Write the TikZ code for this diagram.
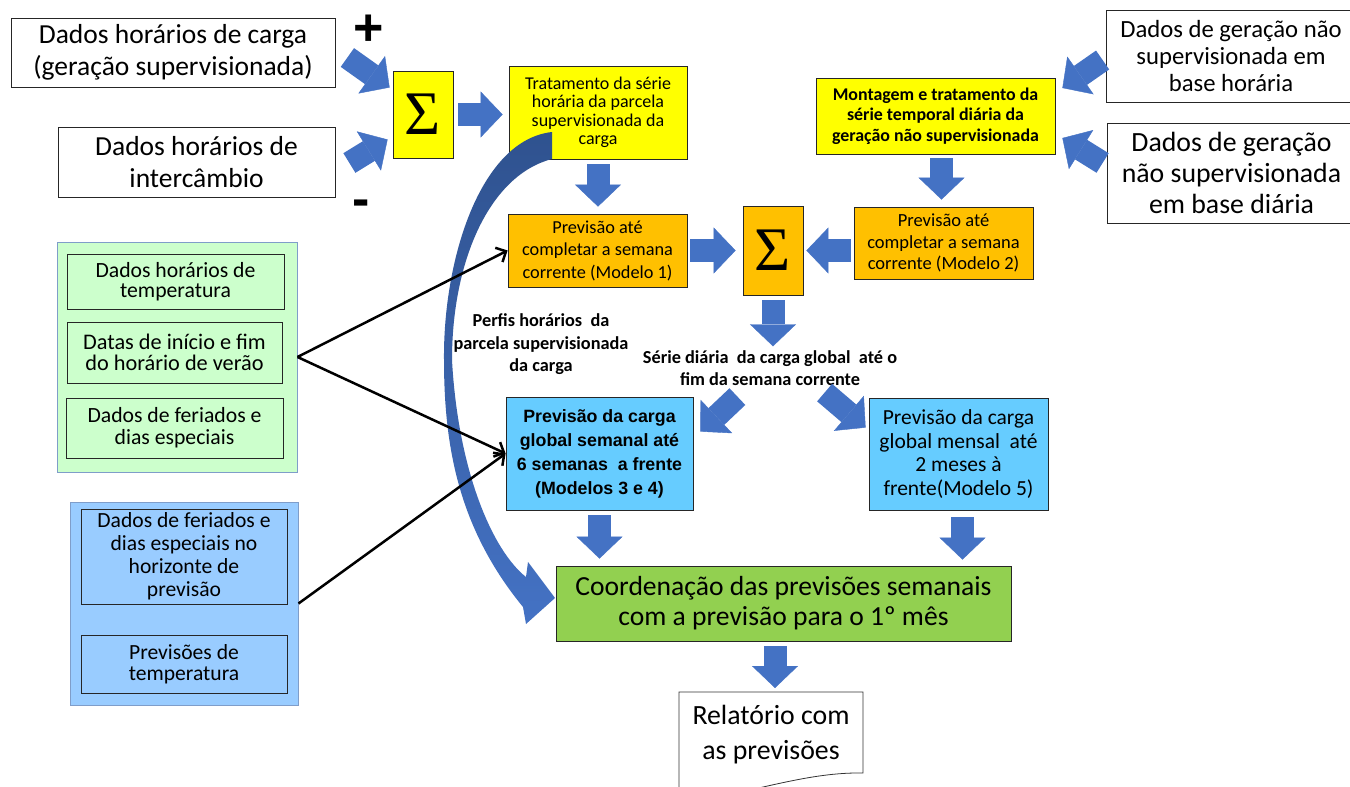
\documentclass[tikz,border=0pt]{standalone}
\usepackage{fontspec}
\setmainfont{Carlito}
\newfontfamily\arialf{Liberation Sans}
\newfontfamily\serf{Liberation Serif}
\usetikzlibrary{arrows.meta,calc}
\definecolor{ablue}{HTML}{4472C4}
\definecolor{dblue}{HTML}{2F528F}
\definecolor{yel}{HTML}{FFFF00}
\definecolor{ora}{HTML}{FFC000}
\definecolor{sky}{HTML}{66CCFF}
\definecolor{grn}{HTML}{92D050}
\definecolor{lgrn}{HTML}{CCFFCC}
\definecolor{lblue}{HTML}{99CCFF}
\definecolor{gborder}{HTML}{7F9DC9}
\newcommand{\fs}[2]{\fontsize{#1}{#2}\selectfont}
\begin{document}
\begin{tikzpicture}[x=1pt,y=-1pt,
 box/.style={draw=black!85, line width=0.8pt, inner sep=0pt, align=center},
 grp/.style={draw=gborder, line width=1pt, inner sep=0pt},
 barrow/.style={ablue, line width=23pt, -{Triangle[length=22pt,width=46pt,line width=0.4pt]}},
 larrow/.style={black, line width=2.5pt, -{Straight Barb[length=8pt,width=16pt]}},
 lbl/.style={font=\bfseries\fs{18.3}{22.5}, align=center, inner sep=0pt}
]
\useasboundingbox (0,0) rectangle (1350,787);
\fill[white] (0,0) rectangle (1350,787);

% top left inputs
\node[box, fill=white, minimum width=324pt, minimum height=69pt, font=\fs{27.5}{32}] (A) at (173,52.5) {Dados horários de carga\\(geração supervisionada)};
\node[box, fill=white, minimum width=277pt, minimum height=70pt, font=\fs{27.5}{32}] (B) at (196.5,162) {Dados horários de\\intercâmbio};
\node[font=\arialf\bfseries\fs{52}{52}, inner sep=0pt] (plus) at (369,30) {+};
\node[font=\arialf\bfseries\fs{52}{52}, inner sep=0pt] (minus) at (361,208) {-};
\node[box, fill=yel, minimum width=60pt, minimum height=87pt, font=\serf\fs{62}{62}] (sig1) at (423,114.5) {Σ};

% supervised branch
\node[box, fill=yel, minimum width=178pt, minimum height=93pt, font=\fs{18}{18.5}] (trat) at (598,112.5) {Tratamento da série\\horária da parcela\\supervisionada da\\carga};
\node[box, fill=ora, minimum width=179pt, minimum height=73pt, font=\fs{18.3}{22.5}] (m1) at (597.5,250.5) {Previsão até\\completar a semana\\corrente (Modelo 1)};
\node[box, fill=ora, minimum width=60pt, minimum height=89pt, font=\serf\fs{62}{62}] (sig2) at (773,250.5) {Σ};

% unsupervised branch
\node[box, fill=yel, minimum width=239pt, minimum height=76pt, font=\bfseries\fs{17.9}{20.5}] (mont) at (935.5,116) {Montagem e tratamento da\\série temporal diária da\\geração não supervisionada};
\node[box, fill=ora, minimum width=179pt, minimum height=72pt, font=\fs{18.5}{21.5}] (m2) at (943.5,243) {Previsão até\\completar a semana\\corrente (Modelo 2)};
\node[box, fill=white, minimum width=250pt, minimum height=92pt, font=\fs{24.7}{27}] (C) at (1231,56) {Dados de geração não\\supervisionada em\\base horária};
\node[box, fill=white, minimum width=249pt, minimum height=100pt, font=\fs{27.8}{31}] (D) at (1231.5,173) {Dados de geração\\não supervisionada\\em base diária};

% labels
\node[lbl] (perfis) at (541,344.5) {Perfis horários\ \ da\\parcela supervisionada\\da carga};
\node[lbl, font=\bfseries\fs{18.3}{22}] (serie) at (770,368) {Série diária\ \ da carga global\ \ até o\\fim da semana corrente};

% forecast boxes
\node[box, fill=sky, minimum width=187pt, minimum height=113pt, font=\arialf\bfseries\fs{17.8}{24}] (W) at (599.5,453.5) {Previsão da carga\\global semanal até\\6 semanas\ \ a frente\\(Modelos 3 e 4)};
\node[box, fill=sky, minimum width=179pt, minimum height=112pt, font=\fs{21.5}{23.5}] (M) at (958.5,454) {Previsão da carga\\global mensal\ \ até\\2 meses à\\frente(Modelo 5)};
\node[box, fill=grn, minimum width=455pt, minimum height=75pt, font=\fs{27.6}{30}] (G) at (783.5,603.5) {Coordenação das previsões semanais\\com a previsão para o 1º mês};

% report (document shape)
\filldraw[fill=white, draw=black!80, line width=0.8pt] (700,800) .. controls (760,790) and (810,772) .. (863,773) -- (863,692) -- (679,692) -- (679,800);
\node[font=\fs{27.8}{35}, align=center, inner sep=0pt] (rel) at (771,735) {Relatório com\\as previsões};
\coordinate (relT) at (775,692);

% left groups
\node[grp, fill=lgrn, minimum width=240pt, minimum height=230pt] (ggrp) at (177,357) {};
\node[box, fill=lgrn, minimum width=217pt, minimum height=55pt, font=\fs{21.7}{19.5}] (g1) at (175.5,281.5) {Dados horários de\\temperatura};
\node[box, fill=lgrn, minimum width=215pt, minimum height=61pt, font=\fs{22.3}{20.5}] (g2) at (174.5,352.5) {Datas de início e fim\\do horário de verão};
\node[box, fill=lgrn, minimum width=217pt, minimum height=60pt, font=\fs{21.7}{22}] (g3) at (174.5,428) {Dados de feriados e\\dias especiais};
\node[grp, fill=lblue, minimum width=228pt, minimum height=203pt] (bgrp) at (184,603.5) {};
\node[box, fill=lblue, minimum width=206pt, minimum height=95pt, font=\fs{21.6}{23}] (b1) at (184,556.5) {Dados de feriados e\\dias especiais no\\horizonte de\\previsão};
\node[box, fill=lblue, minimum width=206pt, minimum height=58pt, font=\fs{21.6}{20.5}] (b2) at (184,664) {Previsões de\\temperatura};

% curved arrow
\shade[top color=dblue, bottom color=ablue] (552,132) .. controls (480,140) and (443,260) .. (444,360) .. controls (444,450) and (460,530) .. (523,607) -- (526,624) -- (555,598) -- (528,562) -- (526,577) .. controls (492,550) and (458,470) .. (452,360) .. controls (452,260) and (490,175) .. (552,159) -- cycle;

% block arrows
\draw[barrow] ($(A.east)+(12,5)$) -- ($(sig1.west)+(-3,-27)$);
\draw[barrow] ($(B.east)+(14,1)$) -- ($(sig1.west)+(-5,25)$);
\draw[barrow, shorten <=5pt, shorten >=6pt] (sig1.east) -- (sig1.east -| trat.west);
\draw[barrow, shorten <=5pt, shorten >=7pt] (trat.south) -- (trat.south |- m1.north);
\draw[barrow, shorten <=3pt, shorten >=7pt] (m1.east) -- (m1.east -| sig2.west);
\draw[barrow, shorten <=3pt, shorten >=3pt] (sig2.east -| m2.west) -- (sig2.east);
\draw[barrow, shorten <=4pt, shorten >=7pt] ($(mont.south)+(6,0)$) -- ($(mont.south |- m2.north)+(6,0)$);
\draw[barrow] ($(C.west)+(-3,4)$) -- ($(mont.east)+(7,-28)$);
\draw[barrow] ($(D.west)+(-4,-10)$) -- ($(mont.east)+(7,22)$);
\draw[barrow, shorten <=5pt, shorten >=4pt] (sig2.south) -- (sig2.south |- serie.north);
\draw[barrow] ($(W.north east)+(44,0)$) -- ($(W.north east)+(7,35)$);
\draw[barrow] ($(M.north west)+(-44,-5)$) -- ($(M.north west)+(-3,30)$);
\draw[barrow, shorten <=5pt, shorten >=7pt] (W.south) -- (W.south |- G.north);
\draw[barrow, shorten <=7pt, shorten >=6pt] ($(M.south)+(4,0)$) -- ($(M.south |- G.north)+(4,0)$);
\draw[barrow, shorten <=5pt, shorten >=4pt] (relT |- G.south) -- (relT);

% black connectors
\draw[larrow] (ggrp.east) -- (m1.west);
\draw[larrow] (ggrp.east) -- (W.west);
\draw[larrow] (bgrp.east) -- (W.west);
\end{tikzpicture}
\end{document}
